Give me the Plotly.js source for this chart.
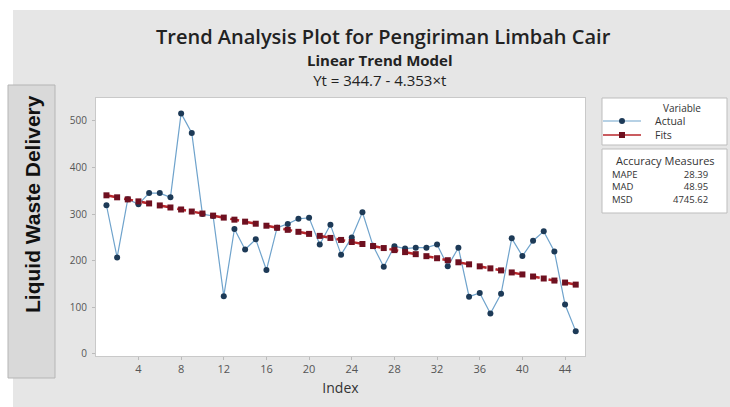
<!DOCTYPE html>
<html>
<head>
<meta charset="utf-8">
<script src="https://cdn.plot.ly/plotly-3.0.1.min.js"></script>
<style>html,body{margin:0;padding:0;background:#fff;}#chart{width:730px;height:407px;}</style>
</head>
<body>
<div id="chart"></div>
<script>
// ---- data ----
const indexT = [1,2,3,4,5,6,7,8,9,10,11,12,13,14,15,16,17,18,19,20,21,22,23,24,25,26,27,28,29,30,31,32,33,34,35,36,37,38,39,40,41,42,43,44,45];
const actual = [319,207,332,321,345,345,336,516,474,300,296,124,268,224,246,180,271,279,290,292,235,277,213,250,304,232,187,231,226,228,228,235,188,228,123,131,87,129,248,210,243,263,220,106,49];
const fits = [340.3,336.0,331.6,327.3,322.9,318.6,314.2,309.9,305.5,301.2,296.8,292.5,288.1,283.8,279.4,275.1,270.7,266.3,262.0,257.6,253.3,248.9,244.6,240.2,235.9,231.5,227.2,222.8,218.5,214.1,209.8,205.4,201.1,196.7,192.3,188.0,183.6,179.3,174.9,170.6,166.2,161.9,157.5,153.2,148.8];
const xTicks = [4,8,12,16,20,24,28,32,36,40,44];
const yTicks = [0,100,200,300,400,500];
const seriesNames = ["Actual","Fits"];
const accuracyNames = ["MAPE","MAD","MSD"];
const accuracyValues = ["28.39","48.95","4745.62"];
const titleText = "Trend Analysis Plot for Pengiriman Limbah Cair";
const subtitleText = "Linear Trend Model";
const equationText = "Yt = 344.7 - 4.353\u00d7t";

// ---- geometry helpers (pixel -> paper) ----
const W = 730, H = 407;
const M = {l: 96, r: 145, t: 98, b: 51};
const PW = W - M.l - M.r, PH = H - M.t - M.b;
const px = x => (x - M.l) / PW;
const py = y => (H - M.b - y) / PH;

const FONT = "Open Sans, Liberation Sans, sans-serif";
const ACT_LINE = "#6fa3cc", ACT_MARK = "#1d3a57";
const FIT_LINE = "#b8262b", FIT_MARK = "#6e1020";

const traces = [
  {
    x: indexT, y: actual, name: seriesNames[0], type: "scatter", mode: "lines+markers",
    line: {color: ACT_LINE, width: 1.2},
    marker: {symbol: "circle", size: 6, color: ACT_MARK}
  },
  {
    x: indexT, y: fits, name: seriesNames[1], type: "scatter", mode: "lines+markers",
    line: {color: FIT_LINE, width: 2.5, dash: "dash"},
    marker: {symbol: "square", size: 6, color: FIT_MARK}
  }
];

const P = (o) => Object.assign({xref: "paper", yref: "paper"}, o);
const shapes = [
  P({type: "rect", x0: px(0), x1: px(W), y0: py(0), y1: py(10), fillcolor: "#ffffff", line: {width: 0}, layer: "below"}),
  P({type: "rect", x0: px(0), x1: px(13), y0: py(0), y1: py(H), fillcolor: "#ffffff", line: {width: 0}, layer: "below"}),
  P({type: "rect", x0: px(8), x1: px(55), y0: py(85), y1: py(378), fillcolor: "#d9d9d9", line: {color: "#b5b5b5", width: 1}, layer: "below"}),
  P({type: "rect", x0: px(602), x1: px(727), y0: py(98), y1: py(145), fillcolor: "#ffffff", line: {color: "#bdbdbd", width: 1}, layer: "below"}),
  P({type: "rect", x0: px(602), x1: px(727), y0: py(149), y1: py(213), fillcolor: "#ffffff", line: {color: "#bdbdbd", width: 1}, layer: "below"}),
  // legend samples
  P({type: "line", x0: px(603), x1: px(641), y0: py(121), y1: py(121), line: {color: ACT_LINE, width: 1.2}}),
  P({type: "circle", x0: px(619), x1: px(625), y0: py(118), y1: py(124), fillcolor: ACT_MARK, line: {color: ACT_MARK, width: 0}}),
  P({type: "line", x0: px(603), x1: px(641), y0: py(135), y1: py(135), line: {color: FIT_LINE, width: 1.5}}),
  P({type: "rect", x0: px(619), x1: px(625), y0: py(132), y1: py(138), fillcolor: FIT_MARK, line: {color: FIT_MARK, width: 0}})
];

const ann = (text, x, y, size, opts) => Object.assign({
  text: text, x: px(x), y: py(y), xref: "paper", yref: "paper", showarrow: false,
  xanchor: "center", yanchor: "middle", font: {family: FONT, size: size, color: "#333"}
}, opts || {});

const annotations = [
  ann(titleText, 383, 36.5, 20, {font: {family: FONT, size: 20, color: "#222", weight: 600}}),
  ann("<b>" + subtitleText + "</b><br>" + equationText, 380, 70, 15, {font: {family: FONT, size: 15, color: "#222"}}),
  ann("Liquid Waste Delivery", 32, 204, 21, {textangle: -90,
      font: {family: "Liberation Sans, Arial, sans-serif", size: 21, color: "#111", weight: 700}}),
  ann("Variable", 682, 108, 10),
  ann(seriesNames[0], 653, 121, 10.5, {xanchor: "left"}),
  ann(seriesNames[1], 653, 135, 10.5, {xanchor: "left"}),
  ann("Accuracy Measures", 665, 160, 11),
  ann(accuracyNames.join("<br>"), 610, 187, 9.5, {xanchor: "left", align: "left"}),
  ann(accuracyValues.join("<br>"), 710, 187, 9.5, {xanchor: "right", align: "right"})
];

const layout = {
  width: W, height: H,
  margin: M,
  paper_bgcolor: "#e6e6e6",
  plot_bgcolor: "#ffffff",
  font: {family: FONT, size: 10, color: "#444"},
  showlegend: false,
  xaxis: {
    range: [0.02, 45.87], tickmode: "array", tickvals: xTicks, ticktext: xTicks.map(String),
    showgrid: false, zeroline: false, showline: true, mirror: true, linecolor: "#c9c9c9", linewidth: 1,
    ticks: "outside", ticklen: 3, tickcolor: "#bbb",
    tickfont: {family: FONT, size: 11, color: "#555"},
    title: {text: "Index", font: {family: FONT, size: 14, color: "#333"}, standoff: 7}
  },
  yaxis: {
    range: [-4.3, 549], tickmode: "array", tickvals: yTicks, ticktext: yTicks.map(String),
    showgrid: false, zeroline: false, showline: true, mirror: true, linecolor: "#c9c9c9", linewidth: 1,
    ticks: "outside", ticklen: 3, tickcolor: "#bbb", ticklabelstandoff: 3,
    tickfont: {family: FONT, size: 10, color: "#555"}
  },
  shapes: shapes,
  annotations: annotations
};

Plotly.newPlot("chart", traces, layout, {displayModeBar: false, staticPlot: true});
</script>
</body>
</html>
